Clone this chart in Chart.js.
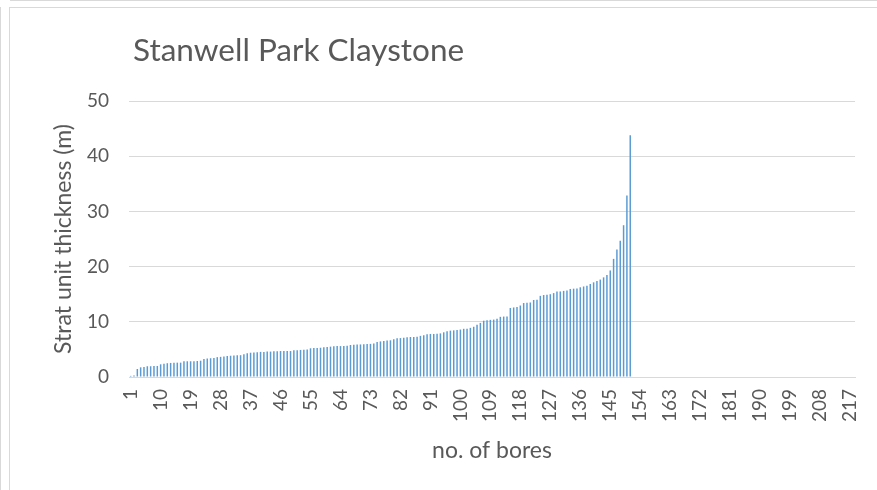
<!DOCTYPE html>
<html>
<head>
<meta charset="utf-8">
<script src="https://cdn.jsdelivr.net/npm/chart.js@4.4.1/dist/chart.umd.min.js"></script>
<style>
    body { margin: 0; background: #fff; }
    #wrap { position: relative; width: 877px; height: 490px; overflow: hidden; }
    .ln { position: absolute; background: #d9d9d9; }
    canvas { position: absolute; left: 0; top: 0; }
</style>
</head>
<body>
<div id="wrap">
    <div class="ln" style="left:10px;top:0;width:867px;height:1px;"></div>
    <div class="ln" style="left:0;top:7px;width:1px;height:483px;"></div>
    <div class="ln" style="left:9px;top:7px;width:868px;height:1px;"></div>
    <div class="ln" style="left:9px;top:7px;width:1px;height:483px;"></div>
    <canvas id="chart" width="877" height="490"></canvas>
</div>
<script>
// bore numbers along the x axis
const categories = [];
for (let i = 1; i <= 218; i++) categories.push(String(i));

// strat unit thickness (m), sorted, one bar per bore
const thickness = [
    0.2, 0.25, 1.45, 1.75, 1.8, 1.95, 1.95, 2.0, 2.0, 2.3,
    2.4, 2.5, 2.55, 2.6, 2.6, 2.6, 2.85, 2.85, 2.85, 2.85,
    2.9, 2.95, 3.25, 3.35, 3.4, 3.45, 3.6, 3.65, 3.7, 3.8,
    3.85, 3.9, 3.95, 3.95, 4.1, 4.3, 4.4, 4.45, 4.5, 4.55,
    4.55, 4.6, 4.6, 4.65, 4.65, 4.7, 4.7, 4.7,
    4.7, 4.85, 4.85, 4.9, 4.95, 5.0, 5.2, 5.25, 5.25, 5.3,
    5.4, 5.45, 5.5, 5.55, 5.6, 5.6, 5.6, 5.65, 5.8, 5.85,
    5.9, 5.9, 5.95, 6.0, 6.0, 6.05, 6.35, 6.45, 6.5, 6.6,
    6.65, 6.85, 7.0, 7.05, 7.1, 7.2, 7.25, 7.25, 7.3, 7.45,
    7.55, 7.75, 7.8, 7.8, 7.85, 7.9, 8.1, 8.3, 8.4, 8.45,
    8.5,
    8.6, 8.73, 8.73, 8.9, 9.1, 9.45, 9.8, 10.2, 10.3, 10.35,
    10.4, 10.55, 10.9, 10.95, 10.95, 12.5, 12.6, 12.7, 12.95, 13.4,
    13.45, 13.5, 13.95, 14.0, 14.7, 14.85, 14.9, 15.0, 15.2, 15.5,
    15.5, 15.6, 15.65, 15.95, 16.0, 16.05, 16.25, 16.4, 16.55, 16.85,
    17.15, 17.4, 17.65, 18.05, 18.5, 19.3, 21.4, 23.1, 24.7, 27.5,
    32.9, 43.8
];

const yTicks = [0, 10, 20, 30, 40, 50];

const titleText = 'Stanwell Park Claystone';
const grey = '#595959';
const gridGrey = '#d9d9d9';
const fontFamily = 'Lato, "Open Sans", sans-serif';

// title sits at the left edge of the plot, like the Excel one
const titlePlugin = {
    id: 'leftTitle',
    afterDraw(chart) {
        const ctx = chart.ctx;
        ctx.save();
        ctx.font = '31.5px ' + fontFamily;
        ctx.fillStyle = grey;
        ctx.textBaseline = 'alphabetic';
        ctx.fillText(titleText, chart.chartArea.left + 4, 61);
        ctx.restore();
    }
};

new Chart(document.getElementById('chart'), {
    type: 'bar',
    data: {
        labels: categories,
        datasets: [{
            label: 'thickness',
            data: thickness,
            backgroundColor: '#5b9bd5',
            barPercentage: 0.45,
            categoryPercentage: 1.0
        }]
    },
    options: {
        responsive: false,
        animation: false,
        devicePixelRatio: 1,
        layout: { padding: { left: 46, right: 21, top: 101, bottom: 22 } },
        plugins: {
            legend: { display: false },
            tooltip: { enabled: false }
        },
        scales: {
            x: {
                grid: { display: false },
                border: { color: gridGrey },
                afterFit: s => { s.height = 91; },
                ticks: {
                    color: grey,
                    font: { family: fontFamily, size: 19 },
                    autoSkip: false,
                    minRotation: 90,
                    maxRotation: 90,
                    padding: 4,
                    callback: (v, i) => (i % 9 === 0 ? categories[i] : null)
                },
                title: {
                    display: true,
                    text: 'no. of bores',
                    color: grey,
                    font: { family: fontFamily, size: 23 }
                }
            },
            y: {
                min: 0,
                max: 50,
                afterFit: s => { s.width = 83; },
                afterBuildTicks: s => { s.ticks = yTicks.map(v => ({ value: v })); },
                grid: { color: gridGrey, drawTicks: false },
                border: { display: false },
                ticks: {
                    color: grey,
                    font: { family: fontFamily, size: 19 },
                    padding: 20
                },
                title: {
                    display: true,
                    text: 'Strat unit thickness (m)',
                    color: grey,
                    font: { family: fontFamily, size: 23 }
                }
            }
        }
    },
    plugins: [titlePlugin]
});
</script>
</body>
</html>
